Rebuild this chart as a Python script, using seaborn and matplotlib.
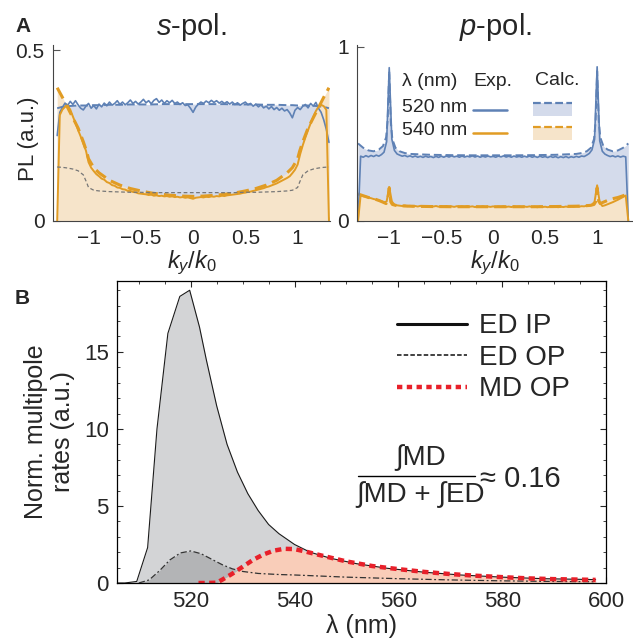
import numpy as np
import pandas as pd
import matplotlib.pyplot as plt
import seaborn as sns
from matplotlib.lines import Line2D
from matplotlib.patches import Rectangle
from matplotlib.ticker import MultipleLocator

sns.set_style('ticks')
plt.rcParams['font.family'] = ['Liberation Sans', 'DejaVu Sans']
plt.rcParams['mathtext.fontset'] = 'custom'
plt.rcParams['mathtext.rm'] = 'Liberation Sans'
plt.rcParams['mathtext.it'] = 'Liberation Sans:italic'

# ---- data, panel A (k_y/k_0 grid of the measured curves) ----
k_exp = np.round(np.linspace(-1.30, 1.30, 105), 3)

s_blue_exp = [
    0.250, 0.318, 0.332, 0.345, 0.338, 0.350, 0.341, 0.352, 0.340, 0.330,
    0.325, 0.336, 0.344, 0.330, 0.338, 0.328, 0.342, 0.334, 0.345, 0.337,
    0.348, 0.339, 0.344, 0.352, 0.341, 0.348, 0.340, 0.346, 0.354, 0.344,
    0.350, 0.342, 0.348, 0.356, 0.346, 0.352, 0.343, 0.353, 0.358, 0.347,
    0.354, 0.344, 0.352, 0.346, 0.353, 0.344, 0.348, 0.341, 0.346, 0.338,
    0.340, 0.330, 0.318, 0.333, 0.342, 0.348, 0.344, 0.351, 0.346, 0.353,
    0.347, 0.352, 0.345, 0.350, 0.344, 0.349, 0.342, 0.348, 0.341, 0.346,
    0.339, 0.344, 0.348, 0.340, 0.344, 0.336, 0.342, 0.334, 0.340, 0.331,
    0.336, 0.328, 0.335, 0.326, 0.332, 0.324, 0.330, 0.322, 0.326, 0.316,
    0.302, 0.324, 0.332, 0.326, 0.336, 0.341, 0.331, 0.344, 0.336, 0.347,
    0.330, 0.318, 0.296, 0.268, 0.230]

s_orange_exp = [
    0.000, 0.310, 0.326, 0.334, 0.338, 0.326, 0.306, 0.287, 0.266, 0.247,
    0.226, 0.206, 0.172, 0.156, 0.146, 0.137, 0.131, 0.124, 0.121, 0.114,
    0.111, 0.105, 0.103, 0.098, 0.097, 0.093, 0.092, 0.088, 0.088, 0.085,
    0.084, 0.081, 0.080, 0.079, 0.078, 0.076, 0.077, 0.074, 0.075, 0.073,
    0.074, 0.072, 0.073, 0.071, 0.072, 0.070, 0.071, 0.069, 0.070, 0.068,
    0.069, 0.067, 0.065, 0.068, 0.069, 0.070, 0.069, 0.071, 0.070, 0.072,
    0.071, 0.073, 0.072, 0.074, 0.073, 0.075, 0.076, 0.077, 0.078, 0.079,
    0.080, 0.082, 0.083, 0.085, 0.086, 0.088, 0.090, 0.092, 0.094, 0.096,
    0.099, 0.101, 0.104, 0.107, 0.110, 0.114, 0.118, 0.122, 0.126, 0.131,
    0.140, 0.150, 0.165, 0.196, 0.222, 0.245, 0.266, 0.286, 0.305, 0.322,
    0.334, 0.340, 0.336, 0.325, 0.000]

p_blue_exp = [
    0.000, 0.372, 0.366, 0.375, 0.368, 0.376, 0.370, 0.378, 0.372, 0.381,
    0.395, 0.455, 0.880, 0.470, 0.405, 0.385, 0.378, 0.372, 0.376, 0.369,
    0.374, 0.367, 0.373, 0.366, 0.371, 0.365, 0.372, 0.366, 0.370, 0.364,
    0.371, 0.365, 0.372, 0.366, 0.373, 0.367, 0.374, 0.368, 0.372, 0.366,
    0.373, 0.367, 0.372, 0.368, 0.374, 0.367, 0.373, 0.366, 0.372, 0.367,
    0.373, 0.368, 0.371, 0.366, 0.373, 0.368, 0.374, 0.367, 0.372, 0.366,
    0.373, 0.367, 0.371, 0.366, 0.372, 0.367, 0.373, 0.366, 0.371, 0.365,
    0.372, 0.366, 0.370, 0.364, 0.371, 0.365, 0.370, 0.363, 0.369, 0.364,
    0.370, 0.363, 0.369, 0.365, 0.371, 0.366, 0.373, 0.370, 0.378, 0.388,
    0.408, 0.468, 0.885, 0.460, 0.400, 0.384, 0.376, 0.370, 0.374, 0.368,
    0.373, 0.367, 0.372, 0.368, 0.000]

p_orange_exp = [
    0.000, 0.148, 0.142, 0.140, 0.134, 0.131, 0.126, 0.123, 0.118, 0.114,
    0.106, 0.112, 0.195, 0.112, 0.094, 0.090, 0.088, 0.086, 0.089, 0.085,
    0.087, 0.084, 0.086, 0.083, 0.087, 0.084, 0.086, 0.082, 0.085, 0.083,
    0.086, 0.082, 0.085, 0.083, 0.086, 0.082, 0.084, 0.081, 0.085, 0.082,
    0.084, 0.081, 0.085, 0.082, 0.084, 0.080, 0.083, 0.081, 0.084, 0.080,
    0.083, 0.081, 0.084, 0.080, 0.083, 0.081, 0.084, 0.081, 0.083, 0.080,
    0.084, 0.081, 0.083, 0.080, 0.083, 0.081, 0.084, 0.080, 0.082, 0.079,
    0.083, 0.080, 0.082, 0.079, 0.083, 0.080, 0.082, 0.079, 0.082, 0.080,
    0.083, 0.080, 0.082, 0.081, 0.083, 0.082, 0.085, 0.084, 0.088, 0.090,
    0.094, 0.110, 0.205, 0.105, 0.086, 0.090, 0.096, 0.102, 0.108, 0.115,
    0.122, 0.130, 0.138, 0.146, 0.000]

# calculated curves, s-pol.
k_calc_s = [-1.30, -1.25, -1.20, -1.15, -1.10, -1.05, -1.02, -1.00, -0.95, -0.90,
            -0.80, -0.70, -0.60, -0.50, -0.40, -0.30, -0.20, -0.10, 0.00,
            0.10, 0.20, 0.30, 0.40, 0.50, 0.60, 0.70, 0.80, 0.90, 0.95,
            1.00, 1.02, 1.05, 1.10, 1.15, 1.20, 1.25, 1.30]
s_blue_calc = [0.330, 0.334, 0.336, 0.337, 0.338, 0.338, 0.338, 0.338, 0.339, 0.339,
               0.340, 0.340, 0.341, 0.341, 0.341, 0.342, 0.342, 0.342, 0.342,
               0.342, 0.342, 0.342, 0.341, 0.341, 0.341, 0.340, 0.340, 0.339, 0.339,
               0.338, 0.338, 0.338, 0.338, 0.337, 0.336, 0.334, 0.330]
s_orange_calc = [0.390, 0.362, 0.332, 0.302, 0.272, 0.232, 0.205, 0.182, 0.156, 0.141,
                 0.119, 0.105, 0.095, 0.088, 0.082, 0.078, 0.075, 0.073, 0.072,
                 0.073, 0.075, 0.078, 0.082, 0.088, 0.095, 0.105, 0.119, 0.141, 0.156,
                 0.182, 0.205, 0.232, 0.272, 0.302, 0.332, 0.362, 0.390]
s_gray_calc = [0.158, 0.157, 0.155, 0.152, 0.147, 0.135, 0.114, 0.098, 0.090, 0.088,
               0.086, 0.085, 0.084, 0.084, 0.083, 0.083, 0.083, 0.083, 0.083,
               0.083, 0.083, 0.083, 0.083, 0.084, 0.084, 0.085, 0.086, 0.088, 0.090,
               0.098, 0.114, 0.135, 0.147, 0.152, 0.155, 0.157, 0.158]

# calculated curves, p-pol.
k_calc_p = [-1.30, -1.25, -1.20, -1.15, -1.10, -1.06, -1.03, -1.015, -1.00, -0.985,
            -0.97, -0.94, -0.90, -0.85, -0.80, -0.60, -0.40, -0.20, 0.00,
            0.20, 0.40, 0.60, 0.80, 0.85, 0.90, 0.94, 0.97, 0.985, 1.00,
            1.015, 1.03, 1.06, 1.10, 1.15, 1.20, 1.25, 1.30]
p_blue_calc = [0.445, 0.420, 0.405, 0.400, 0.410, 0.430, 0.480, 0.580, 0.860, 0.570,
               0.470, 0.420, 0.400, 0.390, 0.385, 0.380, 0.378, 0.377, 0.377,
               0.377, 0.378, 0.380, 0.385, 0.390, 0.400, 0.420, 0.470, 0.570, 0.860,
               0.580, 0.480, 0.430, 0.410, 0.400, 0.405, 0.420, 0.445]
p_orange_calc = [0.155, 0.145, 0.135, 0.128, 0.118, 0.108, 0.100, 0.115, 0.190, 0.110,
                 0.095, 0.090, 0.088, 0.086, 0.085, 0.083, 0.082, 0.082, 0.082,
                 0.082, 0.082, 0.083, 0.085, 0.086, 0.088, 0.090, 0.095, 0.110, 0.190,
                 0.115, 0.100, 0.108, 0.118, 0.128, 0.135, 0.145, 0.155]

# ---- data, panel B (multipole rates vs wavelength) ----
lam_edip = [506.0, 507.3, 509.6, 511.7, 513.5, 515.6, 517.9, 519.8, 521.7, 523.0,
            525.0, 527.0, 529.0, 531.0, 533.0, 535.0, 537.0, 540.0, 543.0, 547.0,
            552.0, 558.0, 565.0, 572.0, 580.0, 588.0, 598.0]
ed_ip = [0.0, 0.0, 0.1, 2.3, 10.0, 16.2, 18.6, 19.0, 16.6, 14.5,
         11.5, 9.0, 7.2, 5.8, 4.7, 3.8, 3.2, 2.5, 2.0, 1.6,
         1.25, 0.95, 0.70, 0.52, 0.38, 0.28, 0.22]
lam_edop = [510, 512, 514, 516, 518, 520, 522, 524, 526, 528, 530, 533, 537, 540,
            545, 550, 560, 570, 580, 590, 598]
ed_op = [0.0, 0.2, 0.8, 1.5, 1.95, 2.08, 1.9, 1.55, 1.2, 0.92, 0.75, 0.62, 0.55, 0.52,
         0.45, 0.38, 0.28, 0.20, 0.14, 0.10, 0.08]
lam_mdop = [521.5, 523, 525, 526, 528, 530, 532, 534, 536, 538, 540, 542, 545, 550,
            555, 560, 565, 570, 575, 580, 585, 590, 595, 598]
md_op = [0.0, 0.0, 0.02, 0.2, 0.6, 1.05, 1.5, 1.85, 2.1, 2.22, 2.2, 2.05, 1.8, 1.4,
         1.1, 0.9, 0.72, 0.58, 0.47, 0.38, 0.30, 0.25, 0.22, 0.20]

BLUE, ORANGE = '#5E81B5', '#E19C24'
BLUE_FILL, ORANGE_FILL = '#d4dbeb', '#f6e4ca'
RED = '#e8202a'

W, H = 633, 641
fig = plt.figure(figsize=(W / 100, H / 100), dpi=100)
axs = fig.add_axes([53 / W, 1 - 221 / H, 277 / W, 176 / H])
axp = fig.add_axes([357 / W, 1 - 221 / H, 276 / W, 176 / H])
axB = fig.add_axes([117 / W, 1 - 583 / H, 489 / W, 302 / H])


def pl_panel(ax, kc, blue_c, orange_c, blue_e, orange_e):
    ax.fill_between(kc, blue_c, 0, color=BLUE_FILL, lw=0)
    ax.fill_between(kc, orange_c, 0, color=ORANGE_FILL, lw=0)
    sns.lineplot(x=kc, y=blue_c, ax=ax, color=BLUE, lw=1.4, linestyle=(0, (4, 2)))
    sns.lineplot(x=kc, y=orange_c, ax=ax, color=ORANGE, lw=2.2, linestyle=(0, (4, 2)))
    sns.lineplot(x=k_exp, y=blue_e, ax=ax, color=BLUE, lw=1.2)
    sns.lineplot(x=k_exp, y=orange_e, ax=ax, color=ORANGE, lw=1.4)
    ax.set_xticks([-1, -0.5, 0, 0.5, 1])
    ax.set_xticklabels(['\u22121', '\u22120.5', '0', '0.5', '1'])
    ax.xaxis.set_minor_locator(MultipleLocator(0.1))
    ax.tick_params(which='both', direction='in', labelsize=15, pad=6, color='#555')
    ax.tick_params(which='major', length=5)
    ax.tick_params(which='minor', length=3)
    ax.tick_params(axis='y', which='minor', length=0)
    for sp in ['left', 'bottom']:
        ax.spines[sp].set_color('#444')
        ax.spines[sp].set_linewidth(0.8)
    sns.despine(ax=ax)
    ax.set_xlabel('$k_y/k_0$', fontsize=17, labelpad=0)


pl_panel(axs, k_calc_s, s_blue_calc, s_orange_calc, s_blue_exp, s_orange_exp)
sns.lineplot(x=k_calc_s, y=s_gray_calc, ax=axs, color='#777', lw=0.9, linestyle=(0, (3, 2)))
axs.set_xlim(-1.34, 1.31)
axs.set_ylim(0, 0.515)
axs.set_yticks([0, 0.5])
axs.set_yticklabels(['0', '0.5'])
axs.set_ylabel('PL (a.u.)', fontsize=16)
axs.yaxis.set_label_coords(-0.05, 0.47)
axs.set_title('$\\mathit{s}$-pol.', fontsize=21, pad=7)

pl_panel(axp, k_calc_p, p_blue_calc, p_orange_calc, p_blue_exp, p_orange_exp)
axp.set_xlim(-1.31, 1.345)
axp.set_ylim(0, 1.01)
axp.set_yticks([0, 1])
axp.set_yticklabels(['0', '1'])
axp.set_ylabel('')
axp.set_title('$\\mathit{p}$-pol.', fontsize=21, pad=7)

# legend of the p-pol. panel
tA = axp.transAxes
axp.text(0.163, 0.79, '\u03bb (nm)', transform=tA, fontsize=14, va='center')
axp.text(0.42, 0.79, 'Exp.', transform=tA, fontsize=14, va='center')
axp.text(0.645, 0.80, 'Calc.', transform=tA, fontsize=14, va='center')
for yy, name, col, fcol in [(0.645, '520 nm', BLUE, BLUE_FILL), (0.512, '540 nm', ORANGE, ORANGE_FILL)]:
    axp.text(0.163, yy, name, transform=tA, fontsize=14, va='center')
    axp.plot([0.42, 0.543], [yy - 0.012, yy - 0.012], transform=tA, color=col, lw=1.8)
    axp.add_patch(Rectangle((0.638, yy - 0.05), 0.141, 0.073, transform=tA,
                            facecolor=fcol, edgecolor='none'))
    axp.plot([0.638, 0.779], [yy + 0.023, yy + 0.023], transform=tA, color=col, lw=1.6,
             linestyle=(0, (3.5, 1.5)))

# ---- panel B ----
axB.fill_between(lam_edip, ed_ip, 0, color='#d3d4d6', lw=0)
axB.fill_between(lam_edop, ed_op, 0, color='#b3b4b6', lw=0)
axB.fill_between(lam_mdop, md_op, 0, color='#f9cdb9', lw=0)
sns.lineplot(x=lam_edip, y=ed_ip, ax=axB, color='#1a1a1a', lw=0.8)
sns.lineplot(x=lam_edop, y=ed_op, ax=axB, color='#333', lw=0.9, linestyle=(0, (5, 2, 1.5, 2)))
sns.lineplot(x=lam_mdop, y=md_op, ax=axB, color=RED, lw=3.2, linestyle=(0, (1.4, 1.0)))
axB.set_xlim(505.8, 600)
axB.set_ylim(0, 19.6)
axB.set_xticks([520, 540, 560, 580, 600])
axB.set_yticks([0, 5, 10, 15])
axB.xaxis.set_minor_locator(MultipleLocator(5))
axB.yaxis.set_minor_locator(MultipleLocator(1))
axB.tick_params(which='both', direction='in', top=True, right=True, labelsize=16, pad=6)
axB.tick_params(which='major', length=4)
axB.tick_params(which='minor', length=2)
for sp in axB.spines.values():
    sp.set_linewidth(0.9)
    sp.set_color('black')
axB.set_xlabel('\u03bb (nm)', fontsize=18, labelpad=1)
axB.set_ylabel('Norm. multipole\nrates (a.u.)', fontsize=18, linespacing=1.15)
axB.yaxis.set_label_coords(-0.086, 0.5)

handles = [Line2D([], [], color='#111', lw=2.2),
           Line2D([], [], color='#333', lw=1.3, linestyle=(0, (2.5, 1.2))),
           Line2D([], [], color=RED, lw=3.2, linestyle=(0, (1.2, 1.0)))]
axB.legend(handles, ['ED IP', 'ED OP', 'MD OP'], loc='upper left',
           bbox_to_anchor=(0.55, 0.93), frameon=False, fontsize=20,
           handlelength=2.5, handletextpad=0.45, labelspacing=0.2, borderaxespad=0)

tB = axB.transAxes
axB.text(0.62, 0.414, '\u222bMD', transform=tB, fontsize=20, ha='center', va='center')
axB.plot([0.493, 0.732], [0.354, 0.354], transform=tB, color='black', lw=1.0)
axB.text(0.62, 0.291, '\u222bMD + \u222bED', transform=tB, fontsize=20, ha='center', va='center')
axB.text(0.742, 0.345, '\u2248 0.16', transform=tB, fontsize=21, ha='left', va='center')

fig.text(15 / W, 1 - 32 / H, 'A', fontsize=15, fontweight='bold')
fig.text(15 / W, 1 - 304 / H, 'B', fontsize=15, fontweight='bold')

fig.savefig('out.png', dpi=100)
